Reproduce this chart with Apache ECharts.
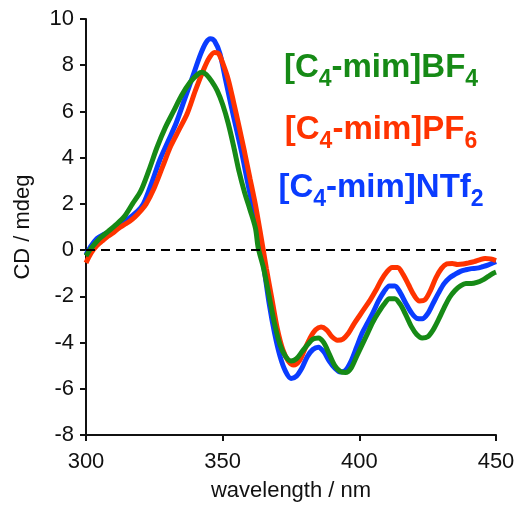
<!DOCTYPE html>
<html>
<head>
<meta charset="utf-8">
<script src="https://cdn.jsdelivr.net/npm/echarts@6/dist/echarts.min.js"></script>
<style>
html,body{margin:0;padding:0;background:#fff;}
#chart{width:520px;height:512px;}
</style>
</head>
<body>
<div id="chart"></div>
<script>
// ---- data (wavelength nm, CD mdeg) ----
const xTicks = [300, 350, 400, 450];
const yTicks = [-8, -6, -4, -2, 0, 2, 4, 6, 8, 10];

const bf4Wavelength = [300,302,305,308,311,314,317,320,323,326,329,332,335,338,341,342.5,344,346,348,350,352,354,356,358,360,362,363,365,367,369,371,373,375,377,379,381,383,385,387,389,391,393,395,397,399,401,403,405,407,409,411,413,415,417,419,421,423,425,427,429,431,433,435,437,439,441,443,445,447,449,450];
const bf4CD = [-0.25,0.1,0.5,0.8,1.1,1.45,2.0,2.55,3.45,4.45,5.3,6.0,6.7,7.25,7.62,7.7,7.6,7.3,6.9,6.3,5.5,4.5,3.4,2.5,1.75,0.95,0.1,-0.8,-2.0,-3.2,-4.1,-4.6,-4.8,-4.7,-4.4,-4.1,-3.85,-3.8,-4.0,-4.5,-5.0,-5.25,-5.3,-5.1,-4.6,-4.1,-3.6,-3.1,-2.7,-2.35,-2.1,-2.1,-2.35,-2.8,-3.3,-3.65,-3.8,-3.75,-3.45,-3.0,-2.5,-2.05,-1.75,-1.55,-1.45,-1.45,-1.4,-1.3,-1.15,-1.0,-0.95];

const pf6Wavelength = [300,302,304,306,308,310,312,314,316,318,320,322,325,328,331,334,337,340,343,345,347,348.5,350,352,354,356,358,360,362,364,366,368,370,372,374,376,378,380,382,384,386,388,390,392,394,396,398,400,402,404,406,408,410,412,414,416,418,420,422,424,426,428,430,432,434,436,438,440,442,444,446,448,450];
const pf6CD = [-0.55,-0.1,0.2,0.4,0.6,0.75,0.95,1.1,1.25,1.45,1.7,2.0,2.7,3.6,4.5,5.2,5.9,6.9,7.8,8.3,8.55,8.5,8.1,7.4,6.4,5.35,4.25,3.1,1.95,0.6,-0.8,-2.1,-3.4,-4.3,-4.8,-4.97,-4.8,-4.3,-3.8,-3.45,-3.33,-3.45,-3.75,-3.9,-3.85,-3.6,-3.2,-2.85,-2.5,-2.15,-1.75,-1.3,-0.95,-0.75,-0.75,-1.05,-1.5,-1.95,-2.2,-2.15,-1.75,-1.2,-0.8,-0.6,-0.58,-0.62,-0.6,-0.55,-0.5,-0.42,-0.36,-0.38,-0.45];

const ntf2Wavelength = [300,302,304,306,308,310,313,316,319,321,324,327,330,333,336,339,342,344,345.5,347,349,351,353,355,357,359,361,363,365,367,369,371,373,375,377,379,381,383,385,387,389,391,393,395,397,399,401,403,405,407,409,411,413,415,417,419,421,423,425,427,429,431,433,435,437,439,441,443,445,447,449,450];
const ntf2CD = [-0.2,0.2,0.5,0.65,0.75,0.9,1.15,1.4,1.7,2.0,2.9,3.9,4.7,5.5,6.5,7.5,8.5,9.0,9.15,9.05,8.5,7.4,6.3,5.25,4.2,3.0,1.85,0.6,-0.7,-2.3,-3.6,-4.6,-5.25,-5.55,-5.45,-5.1,-4.6,-4.3,-4.2,-4.4,-4.8,-5.1,-5.27,-5.2,-4.8,-4.2,-3.6,-3.15,-2.7,-2.2,-1.8,-1.55,-1.55,-1.85,-2.3,-2.7,-2.95,-2.97,-2.75,-2.3,-1.85,-1.45,-1.2,-1.05,-0.92,-0.85,-0.8,-0.78,-0.72,-0.65,-0.55,-0.5];

const seriesNames = ['[C4-mim]BF4', '[C4-mim]PF6', '[C4-mim]NTf2'];

function pairs(xs, ys) { return xs.map((x, i) => [x, ys[i]]); }

const GREEN = '#168a16', RED = '#ff3300', BLUE = '#0a3cff';
const FONT = '"Liberation Sans", Arial, Helvetica, sans-serif';

const chart = echarts.init(document.getElementById('chart'), null, {renderer: 'canvas'});

const legendRich = (color) => ({
  m: {fontSize: 33, fontWeight: 'bold', fill: color, fontFamily: FONT, lineHeight: 40, verticalAlign: 'bottom'},
  s: {fontSize: 23, fontWeight: 'bold', fill: color, fontFamily: FONT, lineHeight: 40, verticalAlign: 'bottom', padding: [0,0,-7,0]}
});

function legendItem(text, color, y) {
  return {type: 'text', x: 381, y: y, z: 10,
    style: {text: text, rich: legendRich(color), fill: color, textAlign: 'center', textVerticalAlign: 'top'}};
}

chart.setOption({
  animation: false,
  backgroundColor: '#fff',
  grid: {left: 86, right: 24, top: 19, bottom: 77, containLabel: false},
  xAxis: {
    type: 'value', min: 300, max: 450, interval: 50,
    name: 'wavelength / nm', nameLocation: 'middle', nameGap: 45,
    nameTextStyle: {fontSize: 22, color: '#111', fontFamily: FONT},
    axisLine: {show: true, onZero: false, lineStyle: {color: '#111', width: 2}},
    axisTick: {show: true, length: 6, lineStyle: {color: '#111', width: 2}},
    axisLabel: {fontSize: 22, color: '#111', fontFamily: FONT, margin: 16,
      formatter: v => xTicks.includes(v) ? String(v) : ''},
    splitLine: {show: false}
  },
  yAxis: {
    type: 'value', min: -8, max: 10, interval: 2,
    name: 'CD / mdeg', nameLocation: 'middle', nameGap: 52,
    nameTextStyle: {fontSize: 22, color: '#111', fontFamily: FONT},
    axisLine: {show: true, onZero: false, lineStyle: {color: '#111', width: 2}},
    axisTick: {show: true, length: 6, lineStyle: {color: '#111', width: 2}},
    axisLabel: {fontSize: 22, color: '#111', fontFamily: FONT, margin: 12,
      formatter: v => yTicks.includes(v) ? String(v) : ''},
    splitLine: {show: false}
  },
  series: [
    {name: seriesNames[2], type: 'line', data: pairs(ntf2Wavelength, ntf2CD), smooth: 0.3, showSymbol: false,
     lineStyle: {color: BLUE, width: 5}, itemStyle: {color: BLUE}, z: 2,
     markLine: {silent: true, symbol: 'none', label: {show: false},
       lineStyle: {color: '#000', width: 2, type: [9, 6]}, data: [{yAxis: 0}]}},
    {name: seriesNames[1], type: 'line', data: pairs(pf6Wavelength, pf6CD), smooth: 0.3, showSymbol: false,
     lineStyle: {color: RED, width: 5}, itemStyle: {color: RED}, z: 3},
    {name: seriesNames[0], type: 'line', data: pairs(bf4Wavelength, bf4CD), smooth: 0.3, showSymbol: false,
     lineStyle: {color: GREEN, width: 5}, itemStyle: {color: GREEN}, z: 4}
  ],
  graphic: [
    legendItem('{m|[C}{s|4}{m|-mim]BF}{s|4}', GREEN, 44),
    legendItem('{m|[C}{s|4}{m|-mim]PF}{s|6}', RED, 106),
    legendItem('{m|[C}{s|4}{m|-mim]NTf}{s|2}', BLUE, 164)
  ]
});
</script>
</body>
</html>
